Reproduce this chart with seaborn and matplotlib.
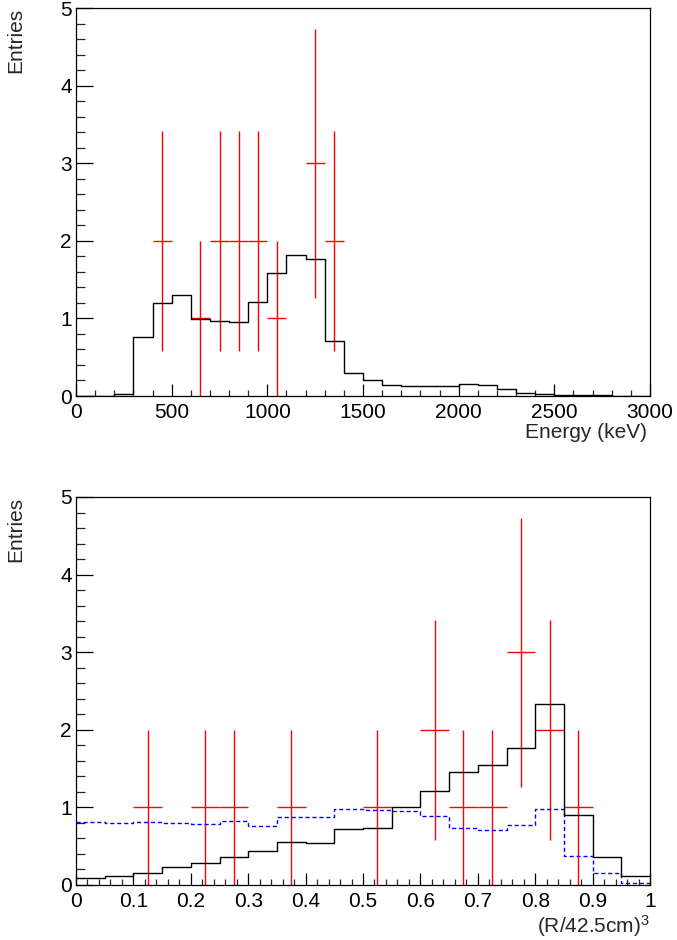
import numpy as np
import pandas as pd
import matplotlib
matplotlib.use("Agg")
import matplotlib.pyplot as plt
from matplotlib.ticker import MultipleLocator
import seaborn as sns

# ---------------- data ----------------
# Top panel: energy spectrum, 100 keV bins 0..3000
energy_edges = list(range(0, 3100, 100))
energy_mc = [0.0, 0.0, 0.03, 0.76, 1.20, 1.30, 0.99, 0.97, 0.96, 1.21,
             1.58, 1.82, 1.76, 0.71, 0.29, 0.20, 0.146, 0.133, 0.124, 0.124,
             0.15, 0.14, 0.09, 0.043, 0.02, 0.017, 0.013, 0.008, 0.004, 0.002]
energy_data_x = [450, 650, 750, 850, 950, 1050, 1250, 1350]
energy_data_n = [2, 1, 2, 2, 2, 1, 3, 2]

# Bottom panel: (R/42.5cm)^3, 0.05 bins 0..1
r3_edges = [round(0.05 * i, 2) for i in range(21)]
r3_mc_black = [0.086, 0.12, 0.16, 0.23, 0.28, 0.36, 0.44, 0.55, 0.54, 0.72,
               0.74, 1.00, 1.21, 1.45, 1.55, 1.76, 2.33, 0.90, 0.36, 0.11]
r3_mc_blue = [0.81, 0.80, 0.81, 0.80, 0.79, 0.82, 0.76, 0.87, 0.88, 0.98,
              0.97, 0.95, 0.89, 0.74, 0.71, 0.77, 0.98, 0.37, 0.16, 0.03]
r3_data_x = [0.125, 0.225, 0.275, 0.375, 0.525, 0.625, 0.675, 0.725, 0.775, 0.825, 0.875]
r3_data_n = [1, 1, 1, 1, 1, 2, 1, 1, 3, 2, 1]

# ---------------- style ----------------
sns.set_style("ticks")
plt.rcParams['font.family'] = ['Liberation Sans', 'DejaVu Sans']
plt.rcParams['mathtext.fontset'] = 'custom'
plt.rcParams['mathtext.rm'] = 'Liberation Sans'
plt.rcParams['mathtext.default'] = 'regular'
plt.rcParams['axes.linewidth'] = 0.9
plt.rcParams['axes.edgecolor'] = 'black'

FS = 15
fig = plt.figure(figsize=(6.77, 9.40), dpi=100)
L, R = 76 / 677, 650 / 677
ax1 = fig.add_axes([L, 1 - 396 / 940, R - L, (396 - 8) / 940])
ax2 = fig.add_axes([L, 1 - 885 / 940, R - L, (885 - 497) / 940])


def centers(edges):
    e = np.asarray(edges, dtype=float)
    return 0.5 * (e[:-1] + e[1:])


def style_axes(ax, xmaj, xmin):
    ax.xaxis.set_major_locator(MultipleLocator(xmaj))
    ax.xaxis.set_minor_locator(MultipleLocator(xmin))
    ax.yaxis.set_major_locator(MultipleLocator(1))
    ax.yaxis.set_minor_locator(MultipleLocator(0.2))
    ax.tick_params(axis='x', which='major', direction='in', length=8.4, width=0.9,
                   labelsize=FS, pad=5, top=False, colors='black')
    ax.tick_params(axis='x', which='minor', direction='in', length=4.2, width=0.9, top=False)
    ax.tick_params(axis='y', which='major', direction='in', length=12.4, width=0.9,
                   labelsize=FS, pad=3, right=False, colors='black')
    ax.tick_params(axis='y', which='minor', direction='in', length=6.2, width=0.9, right=False)
    for s in ax.spines.values():
        s.set_visible(True)
        s.set_color('black')


# ---------- top panel ----------
bw = 100
ax1.errorbar(energy_data_x, energy_data_n, xerr=bw / 2, yerr=np.sqrt(energy_data_n),
             fmt='none', ecolor='#ff0000', elinewidth=1.0, capsize=0, zorder=2)
sns.histplot(x=centers(energy_edges), weights=energy_mc, bins=energy_edges,
             element='step', fill=False, color='black', linewidth=1.0, ax=ax1, zorder=3)
ax1.set_xlim(0, 3000)
ax1.set_ylim(0, 5)
style_axes(ax1, 500, 100)
ax1.set_xlabel('Energy (keV)', fontsize=FS, loc='right')
ax1.xaxis.set_label_coords(0.995, -0.069)
ax1.set_ylabel('Entries', fontsize=FS, loc='top')
ax1.yaxis.set_label_coords(-0.089, 1.0)

# ---------- bottom panel ----------
bw2 = 0.05
ax2.errorbar(r3_data_x, r3_data_n, xerr=bw2 / 2, yerr=np.sqrt(r3_data_n),
             fmt='none', ecolor='#ff0000', elinewidth=1.0, capsize=0, zorder=2)
sns.histplot(x=centers(r3_edges), weights=r3_mc_blue, bins=r3_edges,
             element='step', fill=False, color='#0000ff', linewidth=1.0,
             linestyle=(0, (3, 2)), ax=ax2, zorder=3)
sns.histplot(x=centers(r3_edges), weights=r3_mc_black, bins=r3_edges,
             element='step', fill=False, color='black', linewidth=1.0, ax=ax2, zorder=3)
ax2.set_xlim(0, 1)
ax2.set_ylim(0, 5)
style_axes(ax2, 0.1, 0.02)
ax2.set_xticks(np.round(np.arange(0, 1.01, 0.1), 1))
ax2.set_xticklabels(['0', '0.1', '0.2', '0.3', '0.4', '0.5', '0.6', '0.7', '0.8', '0.9', '1'])
ax2.set_xlabel('(R/42.5cm)$^{3}$', fontsize=FS, loc='right')
ax2.xaxis.set_label_coords(1.0, -0.072)
ax2.set_ylabel('Entries', fontsize=FS, loc='top')
ax2.yaxis.set_label_coords(-0.089, 1.0)

fig.savefig('out.png', dpi=100)
